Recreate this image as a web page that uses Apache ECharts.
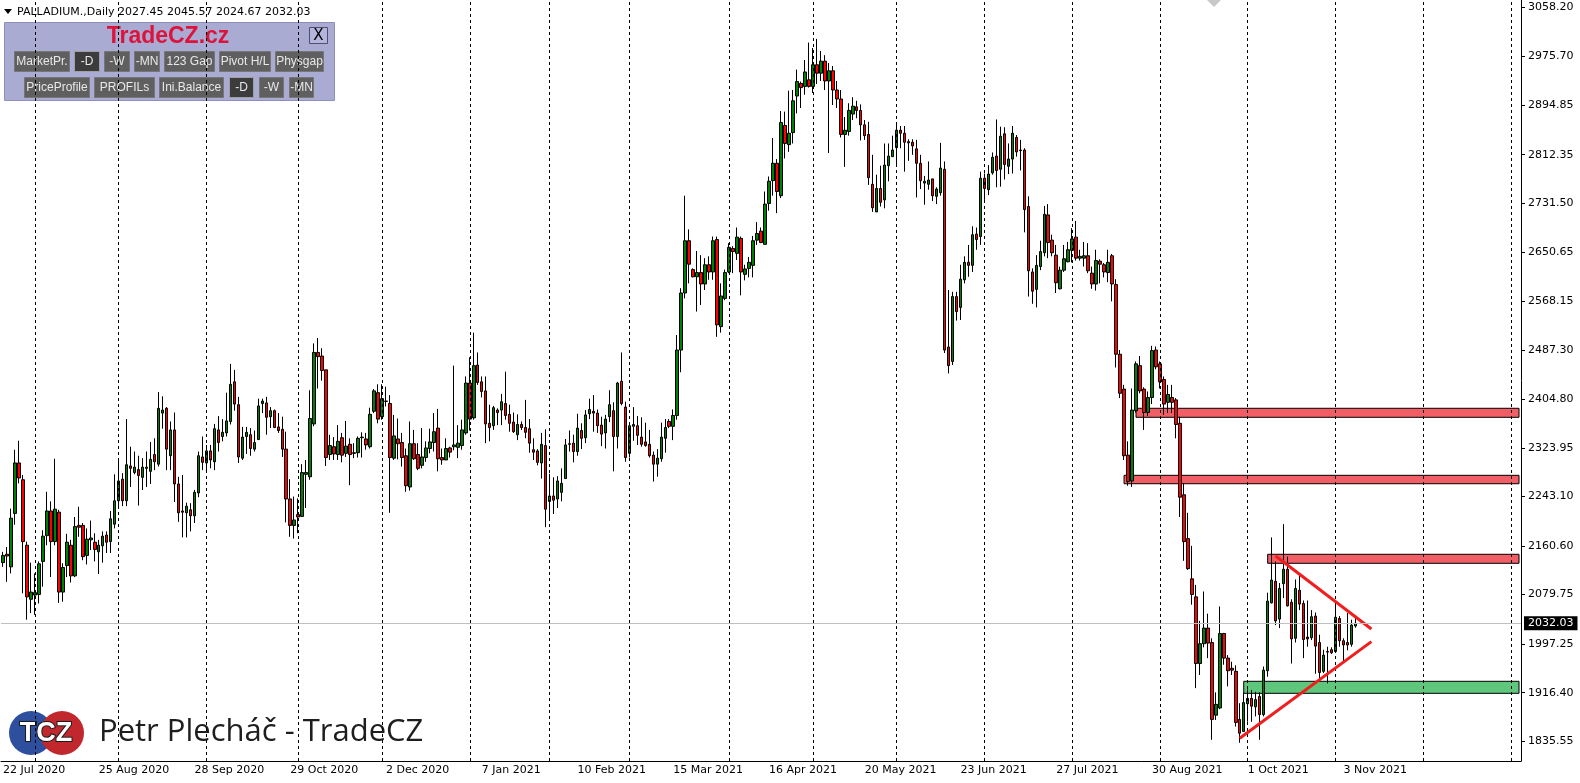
<!DOCTYPE html>
<html>
<head>
<meta charset="utf-8">
<script src="https://cdn.jsdelivr.net/npm/echarts@6.0.0/dist/echarts.min.js"></script>
<style>
html,body{margin:0;padding:0;background:#fff;}
#c{width:1580px;height:783px;}
</style>
</head>
<body>
<div id="c"></div>
<script>
// ---------- DATA ----------
// daily candles: [open, close, low, high]
const candles = [
[2133,2145,2126,2151],[2147,2144,2101,2159],[2126,2207,2115,2223],[2215,2299,2196,2321],[2299,2274,2265,2336],
[2271,2168,2082,2279],[2162,2076,2038,2168],[2072,2084,2049,2133],[2079,2083,2046,2115],[2080,2131,2065,2135],
[2135,2177,2093,2187],[2178,2219,2162,2251],[2219,2168,2109,2235],[2168,2222,2162,2306],[2217,2084,2066,2221],
[2084,2125,2068,2132],[2128,2167,2109,2181],[2162,2111,2100,2171],[2111,2193,2109,2209],[2195,2192,2176,2226],
[2195,2143,2137,2199],[2145,2172,2130,2190],[2171,2174,2154,2203],[2167,2155,2135,2182],[2151,2162,2114,2171],
[2161,2177,2133,2185],[2179,2167,2149,2185],[2168,2206,2149,2219],[2197,2236,2190,2280],[2236,2269,2227,2304],
[2272,2236,2227,2282],[2236,2296,2227,2372],[2294,2290,2259,2326],[2283,2292,2280,2318],[2288,2278,2228,2311],
[2275,2292,2254,2307],[2290,2292,2259,2318],[2285,2305,2264,2334],[2313,2301,2287,2340],[2297,2390,2293,2417],
[2382,2387,2356,2410],[2390,2322,2287,2392],[2311,2354,2287,2368],[2354,2264,2234,2383],[2264,2216,2201,2276],
[2219,2217,2175,2279],[2216,2227,2175,2233],[2221,2211,2185,2232],[2211,2250,2199,2254],[2249,2311,2242,2318],
[2309,2300,2287,2343],[2299,2319,2287,2329],[2319,2304,2290,2329],[2301,2356,2287,2364],[2354,2333,2318,2377],
[2343,2350,2335,2372],[2349,2369,2343,2416],[2368,2430,2363,2464],[2434,2397,2386,2454],[2396,2309,2299,2409],
[2307,2342,2304,2359],[2343,2350,2314,2359],[2346,2323,2311,2357],[2322,2333,2318,2353],[2338,2394,2337,2406],
[2398,2402,2382,2406],[2399,2375,2346,2409],[2376,2386,2357,2392],[2386,2358,2357,2388],[2359,2353,2349,2382],
[2355,2322,2309,2376],[2322,2239,2200,2351],[2239,2195,2176,2272],[2195,2204,2173,2243],[2213,2209,2182,2240],
[2210,2283,2209,2297],[2280,2283,2224,2304],[2276,2373,2271,2420],[2364,2483,2360,2498],[2483,2476,2423,2507],
[2477,2453,2436,2490],[2454,2308,2294,2454],[2313,2328,2304,2346],[2326,2314,2304,2342],[2313,2335,2304,2362],
[2341,2312,2300,2349],[2315,2327,2309,2369],[2330,2313,2262,2340],[2315,2316,2307,2332],[2316,2340,2308,2343],
[2341,2342,2308,2350],[2339,2329,2321,2349],[2326,2380,2323,2391],[2385,2419,2382,2422],[2416,2372,2365,2430],
[2376,2406,2371,2430],[2402,2401.5,2393,2426],[2398,2308,2216,2412],[2307,2344,2304,2379],[2339,2331,2305,2373],
[2333,2308,2293,2349],[2311,2261,2251,2323],[2259,2331,2253,2368],[2331,2306,2304,2354],[2313,2290,2287,2332],
[2295,2309,2290,2357],[2308,2324,2301,2335],[2323,2334,2315,2356],[2333,2351,2318,2382],[2357,2306,2285,2389],
[2308,2304,2296,2323],[2304,2323,2304,2340],[2324,2317,2308,2326],[2326,2329,2320,2461],[2325,2332,2307,2362],
[2328,2354,2321,2371],[2349,2432,2346,2443],[2432,2372,2353,2475],[2374,2461,2371,2516],[2462,2433,2429,2483],
[2434,2418,2408,2443],[2419,2364,2332,2443],[2365,2358,2335,2396],[2361,2391,2354,2394],[2387,2383,2362,2390],
[2387,2401,2362,2414],[2398,2378,2371,2451],[2380,2365,2351,2396],[2367,2351,2349,2383],[2346,2363,2337,2380],
[2363,2358,2354,2368],[2358,2350,2340,2404],[2356,2332,2316,2372],[2321,2317,2304,2340],[2319,2300,2295,2322],
[2299,2330,2273,2349],[2328,2222,2192,2355],[2235,2244,2204,2281],[2244,2237,2214,2275],[2239,2269,2224,2277],
[2250,2265,2235,2290],[2273,2329,2273,2339],[2330,2331,2318,2353],[2332,2318,2300,2346],[2318,2357,2311,2381],
[2353,2340,2322,2365],[2341,2379,2332,2387],[2381,2388,2372,2406],[2385,2382,2351,2412],[2382,2361,2349,2388],
[2362,2347,2327,2376],[2349,2372,2323,2379],[2376,2396,2367,2420],[2386,2343,2285,2400],[2343,2432,2323,2434],
[2435,2398,2395,2483],[2392,2308,2301,2401],[2315,2361,2308,2366],[2360,2363,2336,2392],[2361,2345,2329,2377],
[2342,2330,2326,2375],[2334,2328,2326,2366],[2330,2311,2308,2354],[2312,2297,2268,2318],[2297,2307,2276,2322],
[2306,2342,2301,2366],[2340,2358,2316,2372],[2368,2360,2357,2372],[2360,2378,2337,2388],[2378,2487,2371,2512],
[2487,2582,2450,2590],[2582,2669,2573,2744],[2669,2630,2598,2688],[2621,2609,2608,2623],[2609,2616,2551,2652],
[2616,2597,2562,2645],[2597,2629,2587,2640],[2629,2617,2604,2643],[2617,2669,2604,2676],[2671,2529,2509,2676],
[2526,2577,2516,2598],[2573,2616,2570,2621],[2617,2658,2615,2665],[2656,2651,2615,2660],[2648,2675,2637,2691],
[2673,2617,2578,2676],[2613,2622,2603,2629],[2623,2633,2608,2642],[2628,2669,2608,2677],[2670,2681,2662,2700],
[2685,2666,2665,2691],[2663,2730,2663,2751],[2731,2768,2719,2776],[2769,2798,2744,2840],[2798,2751,2715,2805],
[2744,2866,2740,2885],[2861,2831,2806,2884],[2829,2848,2817,2919],[2849,2902,2831,2920],[2910,2934,2881,2954],
[2931,2924,2890,2934],[2926,2950,2912,2970],[2937,2926,2924,2999],[2926,2962,2915,2990],[2962,2948,2930,3005],
[2948,2968,2935,2985],[2968,2935,2920,2978],[2935,2952,2815,2965],[2952,2920,2895,2960],[2920,2905,2890,2935],
[2905,2846,2841,2920],[2846,2853,2792,2875],[2851,2886,2844,2898],[2880,2893,2870,2908],[2892,2886,2873,2902],
[2886,2862,2836,2896],[2862,2844,2837,2870],[2846,2774,2762,2867],[2763,2724,2717,2812],[2717,2756,2717,2779],
[2756,2733,2726,2794],[2737,2795,2723,2831],[2794,2810,2768,2831],[2809,2820,2809,2844],[2824,2853,2795,2862],
[2853,2848,2823,2860],[2848,2833,2784,2860],[2834,2832,2802,2838],[2833,2827,2812,2838],[2822,2798,2741,2837],
[2798,2769,2755,2812],[2765,2768,2729,2777],[2763,2770,2754,2801],[2772,2744,2735,2772],[2743,2755,2730,2758],
[2749,2790,2744,2832],[2788,2487,2482,2801],[2492,2461,2448,2587],[2468,2576,2462,2584],[2576,2551,2536,2584],
[2558,2605,2537,2629],[2604,2633,2598,2643],[2633,2628,2609,2662],[2628,2679,2617,2693],[2680,2671,2654,2691],
[2676,2773,2662,2784],[2773,2756,2737,2781],[2754,2780,2745,2795],[2782,2808,2779,2816],[2810,2786,2758,2871],
[2788,2843,2759,2859],[2847,2796,2771,2858],[2793,2805,2780,2831],[2805,2848,2781,2860],[2841,2817,2809,2845],
[2820,2819,2786,2837],[2820,2721,2683,2823],[2726,2619,2576,2743],[2617,2585,2564,2623],[2588,2628,2558,2645],
[2626,2651,2620,2669],[2649,2713,2643,2727],[2712,2666,2640,2730],[2670,2649,2643,2679],[2645,2599,2582,2662],
[2589,2620,2588,2626],[2620,2639,2617,2662],[2634,2654,2633,2667],[2653,2672,2633,2690],[2675,2640,2636,2702],
[2640,2643,2636,2654],[2640,2644,2626,2667],[2644,2619,2615,2665],[2615,2597,2589,2626],[2597,2636,2586,2654],
[2635,2630,2598,2638],[2629,2617,2608,2632],[2616,2633,2600,2654],[2644,2597,2568,2647],[2596,2480,2458,2605],
[2480,2415,2407,2487],[2422,2311,2304,2429],[2312,2268,2261,2335],[2269,2387,2259,2423],[2386,2464,2383,2468],
[2461,2419,2415,2477],[2422,2383,2354,2425],[2383,2408,2377,2418],[2408,2486,2397,2494],[2487,2459,2455,2493],
[2464,2434,2423,2468],[2438,2397,2379,2443],[2400,2413,2382,2429],[2408,2400,2382,2429],[2404,2363,2340,2407],
[2365,2242,2209,2376],[2246,2168,2136,2265],[2173,2123,2121,2216],[2106,2080,2063,2161],[2076,1965,1924,2096],
[1965,1998,1946,2036],[1998,2024,1992,2085],[2024,1999,1974,2048],[2000,1872,1838,2007],[1879,1897,1871,1917],
[1891,2015,1889,2060],[2015,1974,1963,2016],[1974,1953,1927,1979],[1957,1954,1946,1968],[1952,1867,1860,1962],
[1872,1849,1833,1899],[1852,1900,1852,1917],[1898,1907,1868,1922],[1907,1894,1868,1921],[1893,1905,1877,1918],
[1910,1880,1838,1917],[1880,1954,1877,1960],[1953,2069,1943,2083],[2066,2104,2065,2175],[2102,2036,2029,2135],
[2039,2090,2024,2099],[2098,2122,2074,2197],[2122,2061,2060,2143],[2067,2006,1965,2072],[2007,2090,2000,2105],
[2087,2064,2054,2113],[2065,2005,1974,2070],[2009,2006,1993,2070],[2008,2043,2004,2054],[2044,1994,1948,2050],
[2000,1950,1937,2013],[1952,1979,1949,1988],[1984,1985,1932,1993],[1988,1983,1981,1992],[1985,2042,1983,2066],
[2040,2003,1993,2044],[2003,1996,1968,2007],[2000,1996,1987,2049],[1997,2029,1993,2038],[2027.45,2032.03,2024.67,2045.57]
];
const totalSlots = 381;                 // bars + empty space to the right edge
const dateLabels = ['22 Jul 2020','25 Aug 2020','28 Sep 2020','29 Oct 2020','2 Dec 2020','7 Jan 2021',
  '10 Feb 2021','15 Mar 2021','16 Apr 2021','20 May 2021','23 Jun 2021','27 Jul 2021','30 Aug 2021',
  '1 Oct 2021','3 Nov 2021'];
const labelEvery = 24;                  // one date label every 24 bars
const monthStarts = [8,29,51,74,95,117,137,157,182,203,224,246,268,290,312,334,356,378];
const priceTicks = [1835.55,1916.40,1997.25,2079.75,2160.60,2243.10,2323.95,2404.80,2487.30,
  2568.15,2650.65,2731.50,2812.35,2894.85,2975.70,3058.20];
const priceMin = 1802.7, priceMax = 3069.86;
const lastPrice = 2032.03;
const header = 'PALLADIUM.,Daily 2027.45 2045.57 2024.67 2032.03';
// zones: [startBar, top, bottom, type]
const zones = [
  [284, 2390.0, 2375.0, 'red'],
  [281, 2278.4, 2264.4, 'red'],
  [317, 2146.9, 2131.9, 'red'],
  [311, 1935.4, 1915.4, 'green']
];
// triangle lines: [[bar, price], [bar, price]]
const triUpper = [[319, 2144.1], [343, 2022.5]];
const triLower = [[310, 1840.5], [343, 2001.5]];

// ---------- BUILD ----------
const slots = Array.from({length: totalSlots}, (_, i) => String(i));
const labelAt = {};
dateLabels.forEach((t, k) => { labelAt[k * labelEvery] = t; });

const zoneFill = {red: 'rgba(236,40,50,0.75)', green: 'rgba(40,180,80,0.75)'};
const areaData = zones.map(z => [
  {xAxis: z[0], yAxis: z[1], itemStyle: {color: zoneFill[z[3]], borderColor: '#000', borderWidth: 1}},
  {xAxis: totalSlots - 1, yAxis: z[2]}
]);

const sepLines = monthStarts.map(m => ({
  xAxis: m,
  lineStyle: {color: '#000', width: 1, type: [3, 3]},
  label: {show: false}
}));
const triStyle = {color: '#f01e1e', width: 3, type: 'solid'};
const markLines = sepLines.concat([
  [{coord: triUpper[0], lineStyle: triStyle, label: {show: false}}, {coord: triUpper[1]}],
  [{coord: triLower[0], lineStyle: triStyle, label: {show: false}}, {coord: triLower[1]}],
  {yAxis: lastPrice, lineStyle: {color: '#c0c0c0', width: 1, type: 'solid'},
   label: {show: true, position: 'end', formatter: lastPrice.toFixed(2), distance: 3,
     backgroundColor: '#000', color: '#fff', padding: [2, 4, 1, 4],
     fontFamily: 'DejaVu Sans', fontSize: 11}}
]);

// panel buttons
const F = 'Liberation Sans, Arial, sans-serif';
const btns = [
  ['MarketPr.',14,51,55,20,false],['-D',74,51,25,20,true],['-W',104,51,25,20,false],['-MN',134,51,25,20,false],
  ['123 Gap',164,51,50,20,false],['Pivot H/L',219,51,51,20,false],['Physgap',275,51,48,20,false],
  ['PriceProfile',24,77,65,20,false],['PROFILs',94,77,60,20,false],['Ini.Balance',159,77,64,20,false],
  ['-D',229,77,24,20,true],['-W',259,77,24,20,false],['-MN',289,77,24,20,false]
];
const graphics = [
  {type:'polygon', shape:{points:[[4,9],[12,9],[8,14]]}, style:{fill:'#000'}},
  {type:'text', x:17, y:12, style:{text: header, font:'11px DejaVu Sans', fill:'#000', verticalAlign:'middle'}},
  {type:'polygon', shape:{points:[[1207,0],[1221,0],[1214,7]]}, style:{fill:'#c8c8c8'}},
  {type:'rect', shape:{x:4.5,y:22.5,width:330,height:78}, style:{fill:'#a9abd3', stroke:'#8d90bb', lineWidth:1}},
  {type:'text', x:168, y:37, style:{text:'TradeCZ.cz', font:'bold 23px Liberation Sans, Arial', fill:'#dc143c', align:'center', verticalAlign:'middle'}},
  {type:'rect', shape:{x:309.5,y:27.5,width:18,height:16}, style:{fill:'#b3b5dc', stroke:'#50506a', lineWidth:1}},
  {type:'text', x:318.5, y:36, style:{text:'X', font:'15px DejaVu Sans', fill:'#000', align:'center', verticalAlign:'middle'}}
];
btns.forEach(b => {
  graphics.push({type:'rect', shape:{x:b[1]+0.5,y:b[2]+0.5,width:b[3],height:b[4]},
    style:{fill: b[5] ? '#3c3c3c' : '#5f5f5f', stroke: b[5] ? '#a0a0a0' : '#767676', lineWidth:1}});
  graphics.push({type:'text', x:b[1]+b[3]/2+0.5, y:b[2]+b[4]/2+1,
    style:{text:b[0], font:'12px ' + F, fill:'#e8e8e8', align:'center', verticalAlign:'middle'}});
});
// logo + signature
graphics.push(
  {type:'circle', shape:{cx:31, cy:733, r:22}, style:{fill:'#2d4f9e'}},
  {type:'circle', shape:{cx:62, cy:733, r:22}, style:{fill:'#c0282d'}},
  {type:'text', x:46, y:734, style:{text:'TCZ', font:'bold 27px Liberation Sans, Arial', fill:'#fff', stroke:'#1a1a1a', lineWidth:2, align:'center', verticalAlign:'middle'}},
  {type:'text', x:99, y:732, style:{text:'Petr Plecháč - TradeCZ', font:'31px Open Sans, Noto Sans, sans-serif', fill:'#1e1e1e', verticalAlign:'middle'}}
);

const chart = echarts.init(document.getElementById('c'), null, {renderer: 'canvas', width: 1580, height: 783});
chart.setOption({
  animation: false,
  backgroundColor: '#fff',
  grid: {left: -3, right: 59, top: 0, bottom: 22, containLabel: false},
  xAxis: {
    type: 'category', data: slots, boundaryGap: true,
    axisLine: {show: true, lineStyle: {color: '#000', width: 1}},
    axisTick: {show: false},
    splitLine: {show: false},
    axisLabel: {
      interval: (i) => labelAt[i] !== undefined,
      formatter: (v, i) => labelAt[i] || '',
      align: 'left', margin: 4, color: '#000', fontFamily: 'DejaVu Sans', fontSize: 11
    }
  },
  yAxis: {
    type: 'value', position: 'right', min: priceMin, max: priceMax, scale: true,
    splitLine: {show: false},
    axisLine: {show: true, lineStyle: {color: '#000', width: 1}},
    axisTick: {show: true, customValues: priceTicks, length: 4, lineStyle: {color: '#000'}},
    axisLabel: {customValues: priceTicks, formatter: v => v.toFixed(2), margin: 7,
      color: '#000', fontFamily: 'DejaVu Sans', fontSize: 11}
  },
  series: [{
    type: 'candlestick',
    data: candles,
    barWidth: 3,
    itemStyle: {color: '#008000', color0: '#ff0000', borderColor: '#000', borderColor0: '#000', borderWidth: 1},
    markArea: {silent: true, data: areaData},
    markLine: {silent: true, symbol: ['none', 'none'], data: markLines}
  }],
  graphic: graphics
});
</script>
</body>
</html>
